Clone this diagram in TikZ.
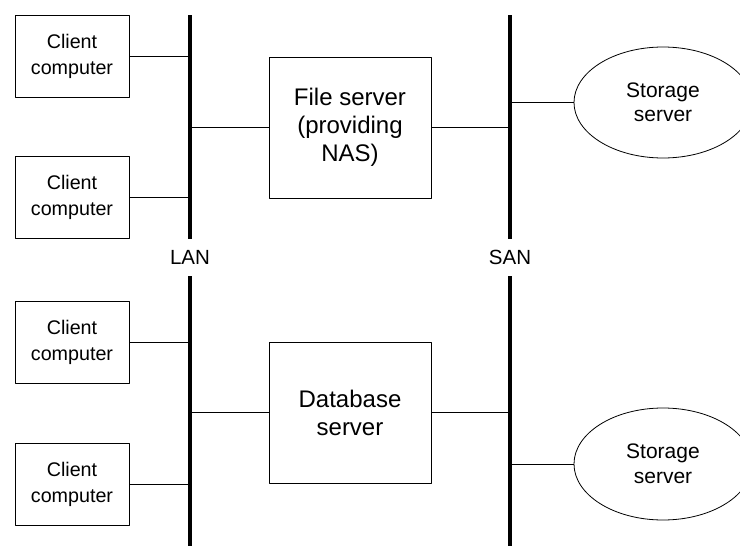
\documentclass[tikz,border=0pt]{standalone}
\usepackage{fontspec}
\setmainfont{Liberation Sans}
\usetikzlibrary{shapes.geometric}
\begin{document}
\begin{tikzpicture}[x=1pt,y=-1pt,line join=round,line width=0.8pt]
	\tikzset{client/.style={draw, align=center, minimum width=114pt, minimum height=82pt, inner sep=0pt, font=\fontsize{19.7}{26}\selectfont},
		server/.style={draw, align=center, minimum width=162pt, minimum height=141pt, inner sep=0pt, font=\fontsize{24}{28}\selectfont},
		storage/.style={draw, ellipse, align=center, minimum width=178pt, minimum height=111pt, inner sep=0pt, font=\fontsize{21}{24.5}\selectfont},
		bus/.style={line width=4pt},
		netlabel/.style={font=\fontsize{20.5}{24}\selectfont}}
	\useasboundingbox (0,0) rectangle (740,546);
	\clip (0,0) rectangle (740,546);
	\coordinate (lan1) at (190,15);
	\coordinate (lan2) at (190,239);
	\coordinate (lan3) at (190,276);
	\coordinate (lan4) at (190,546);
	\coordinate (san1) at (510,15);
	\coordinate (san2) at (510,239);
	\coordinate (san3) at (510,276);
	\coordinate (san4) at (510,546);
	\draw[bus] (lan1)--(lan2);
	\draw[bus] (lan3)--(lan4);
	\draw[bus] (san1)--(san2);
	\draw[bus] (san3)--(san4);
	\node[netlabel] (lan) at (190,257) {LAN};
	\node[netlabel] (san) at (510,257) {SAN};
	\foreach \n/\y in {1/56,2/197.5,3/342.5,4/484}
	{
		\node[client] (c\n) at (72,\y) {Client\\computer};
		\draw (c\n.east)--(c\n -| lan1);
	}
	\node[server] (fs) at (350,127.5) {File server\\(providing\\NAS)};
	\node[server] (db) at (350,412.5) {Database\\server};
	\node[storage] (st1) at (663,102.5) {Storage\\server};
	\node[storage, minimum height=112pt] (st2) at (663,464) {Storage\\server};
	\draw (fs.west)--(fs -| lan1);
	\draw (fs.east)--(fs -| san1);
	\draw (db.west)--(db -| lan1);
	\draw (db.east)--(db -| san1);
	\draw (st1.west)--(st1 -| san1);
	\draw (st2.west)--(st2 -| san1);
\end{tikzpicture}
\end{document}
